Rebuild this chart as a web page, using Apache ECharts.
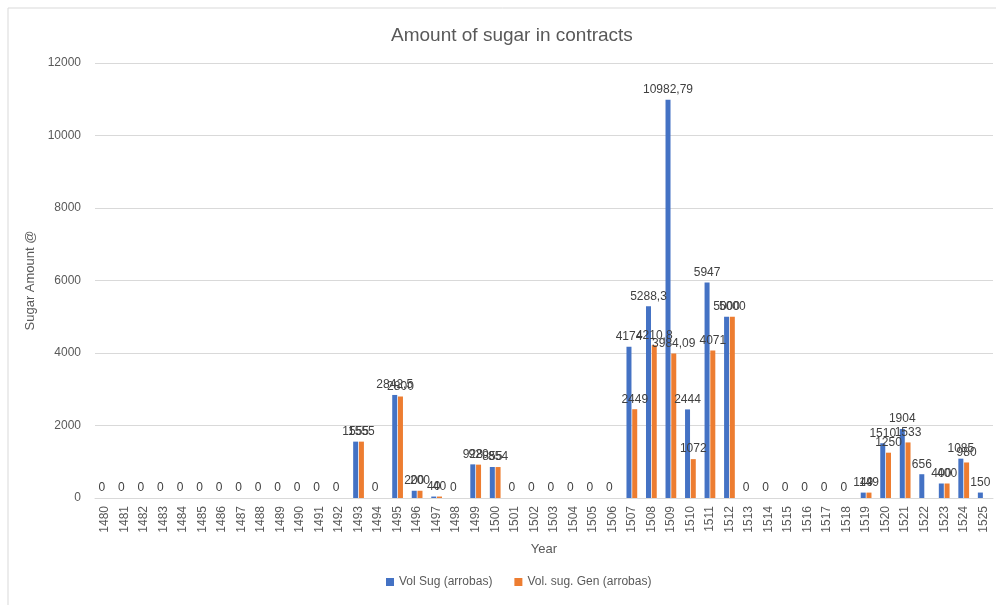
<!DOCTYPE html>
<html>
<head>
<meta charset="utf-8">
<script src="https://cdn.jsdelivr.net/npm/echarts@6/dist/echarts.min.js"></script>
<style>
  html, body { margin: 0; padding: 0; background: #fff; }
  #chart { width: 996px; height: 605px; }
</style>
</head>
<body>
<div id="chart"></div>
<script>
// years on the x axis
const years = [];
for (let y = 1480; y <= 1525; y++) years.push(String(y));

// Vol Sug (arrobas)
const volSug = [
  0, 0, 0, 0, 0, 0, 0, 0, 0, 0, 0, 0, 0,   // 1480-1492
  1555, 0, 2842.5, 200, 40, 0, 928, 855,    // 1493-1500
  0, 0, 0, 0, 0, 0,                          // 1501-1506
  4174, 5288.3, 10982.79, 2444, 5947, 5000,  // 1507-1512
  0, 0, 0, 0, 0, 0,                          // 1513-1518
  149, 1510, 1904, 656, 400, 1085, 150       // 1519-1525
];

// Vol. sug. Gen (arrobas)
const volSugGen = [
  null, null, null, null, null, null, null, null, null, null, null, null, null,
  1555, null, 2800, 200, 40, null, 920, 854,
  null, null, null, null, null, null,
  2449, 4210.8, 3984.09, 1072, 4071, 5000,
  null, null, null, null, null, null,
  149, 1250, 1533, null, 400, 980, null
];

const yTicks = [0, 2000, 4000, 6000, 8000, 10000, 12000];

const fontFam = '"Liberation Sans", Arial, sans-serif';
const txt = '#595959';

const chart = echarts.init(document.getElementById('chart'));

const labelOpt = {
  show: true,
  position: 'top',
  distance: 4,
  color: '#404040',
  fontSize: 12,
  fontFamily: fontFam,
  formatter: p => (p.value == null ? '' : String(p.value).replace('.', ','))
};

chart.setOption({
  animation: false,
  backgroundColor: '#fff',
  graphic: [{
    type: 'rect',
    shape: { x: 8, y: 8, width: 1100, height: 1000 },
    style: { fill: 'none', stroke: '#d9d9d9', lineWidth: 1 },
    silent: true
  }],
  title: {
    text: 'Amount of sugar in contracts',
    left: 386,
    top: 21,
    textStyle: { color: txt, fontSize: 19, fontWeight: 'normal', fontFamily: fontFam }
  },
  legend: {
    bottom: 12,
    left: 381,
    itemWidth: 8,
    itemHeight: 8,
    itemGap: 22,
    icon: 'rect',
    textStyle: { color: txt, fontSize: 12, fontFamily: fontFam },
    data: ['Vol Sug (arrobas)', 'Vol. sug. Gen (arrobas)']
  },
  grid: { left: 95, right: 3, top: 63, bottom: 107 },
  xAxis: {
    type: 'category',
    data: years,
    name: 'Year',
    nameLocation: 'middle',
    nameGap: 45,
    nameTextStyle: { color: txt, fontSize: 13, fontFamily: fontFam },
    axisLine: { lineStyle: { color: '#d9d9d9' } },
    axisTick: { show: false },
    axisLabel: { rotate: 90, color: txt, fontSize: 12, fontFamily: fontFam, margin: 8 }
  },
  yAxis: {
    type: 'value',
    min: yTicks[0],
    max: yTicks[yTicks.length - 1],
    interval: 2000,
    name: 'Sugar Amount @',
    nameLocation: 'middle',
    nameGap: 52,
    nameTextStyle: { color: txt, fontSize: 13, fontFamily: fontFam },
    axisLine: { show: false },
    axisTick: { show: false },
    axisLabel: { color: txt, fontSize: 12, fontFamily: fontFam, margin: 14, formatter: v => String(v) },
    splitLine: { lineStyle: { color: '#d9d9d9' } }
  },
  series: [
    {
      name: 'Vol Sug (arrobas)',
      type: 'bar',
      data: volSug,
      barWidth: 5,
      barGap: '15%',
      itemStyle: { color: '#4472C4' },
      label: labelOpt
    },
    {
      name: 'Vol. sug. Gen (arrobas)',
      type: 'bar',
      data: volSugGen,
      barWidth: 5,
      itemStyle: { color: '#ED7D31' },
      label: labelOpt
    }
  ]
});
</script>
</body>
</html>
